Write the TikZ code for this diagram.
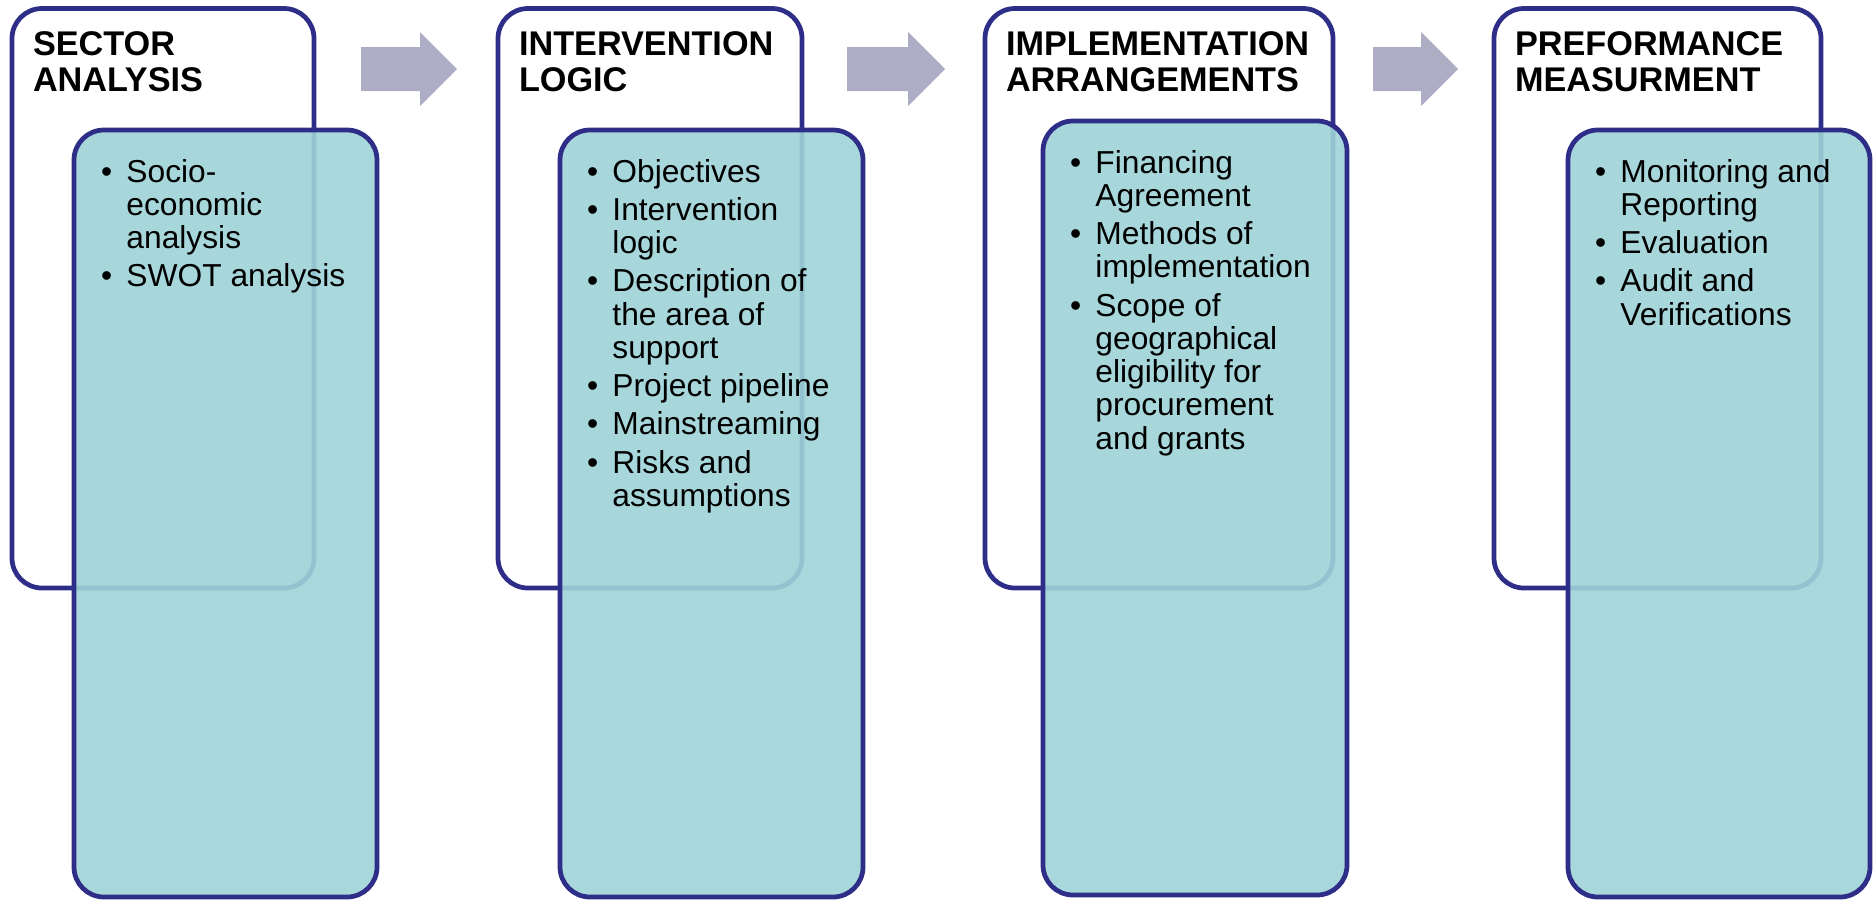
\documentclass[tikz,border=0pt]{standalone}
\usepackage{fontspec}
\setmainfont{Liberation Sans}
\definecolor{boxline}{RGB}{46,46,136}
\definecolor{listfill}{RGB}{158,211,216}
\definecolor{arrowgrey}{RGB}{173,173,198}
\tikzset{
  outerbox/.style={draw=boxline, line width=1.9pt, rounded corners=12pt, fill=white,
    inner sep=0pt, outer sep=0pt, minimum height=231.8pt, anchor=north west},
  innerbox/.style={draw=boxline, line width=1.9pt, rounded corners=12pt, fill=listfill,
    fill opacity=0.9, inner sep=0pt, outer sep=0pt, minimum height=306.8pt, anchor=north west},
  boxtitle/.style={font=\fontsize{13.7pt}{14.4pt}\selectfont\bfseries, inner sep=0pt, anchor=base west},
  itemlist/.style={font=\fontsize{12.7pt}{13.3pt}\selectfont, inner sep=0pt, anchor=base west},
}
\begin{document}
\begin{tikzpicture}[x=0.4pt,y=-0.4pt]
\useasboundingbox (0,0) rectangle (1875,901);

% step boxes
\node[outerbox, minimum width=120.8pt] (sector) at (12,8.5) {};
\node[outerbox, minimum width=121.6pt] (interv) at (498,8.5) {};
\node[outerbox, minimum width=139.2pt] (implem) at (985,8.5) {};
\node[outerbox, minimum width=130.8pt] (perform) at (1494,8.5) {};

\node[boxtitle] (sectortitle) at ([shift={(20.5,46.5)}]sector.north west)
  {\begin{tabular}[t]{@{}l@{}}SECTOR\\ANALYSIS\end{tabular}};
\node[boxtitle] (intervtitle) at ([shift={(20.5,46.5)}]interv.north west)
  {\begin{tabular}[t]{@{}l@{}}INTERVENTION\\LOGIC\end{tabular}};
\node[boxtitle] (implemtitle) at ([shift={(20.5,46.5)}]implem.north west)
  {\begin{tabular}[t]{@{}l@{}}IMPLEMENTATION\\ARRANGEMENTS\end{tabular}};
\node[boxtitle] (performtitle) at ([shift={(20.5,46.5)}]perform.north west)
  {\begin{tabular}[t]{@{}l@{}}PREFORMANCE\\MEASURMENT\end{tabular}};

% arrows between the steps
\foreach \x/\l in {361/59,847/61,1373/48}
  \fill[arrowgrey] (\x,47) -- ++(\l,0) -- ++(0,-15) -- ++(37,37) -- ++(-37,37) -- ++(0,-15) -- ++(-\l,0) -- cycle;

% content boxes
\node[innerbox, minimum width=121.2pt] (sectorlist) at (74,130) {};
\node[innerbox, minimum width=121.2pt] (intervlist) at (560,130) {};
\node[innerbox, minimum width=121.6pt, minimum height=309.6pt] (implemlist) at (1043,121) {};
\node[innerbox, minimum width=120.8pt] (performlist) at (1568,130) {};

\node[itemlist] (sectoritems) at ([shift={(26.6,52)}]sectorlist.north west)
  {\begin{tabular}[t]{@{}l@{\hspace{5.7pt}}l@{}}
   \textbullet & Socio-\\ & economic\\ & analysis\\[2pt]
   \textbullet & SWOT analysis
   \end{tabular}};
\node[itemlist] (intervitems) at ([shift={(26.6,52)}]intervlist.north west)
  {\begin{tabular}[t]{@{}l@{\hspace{5.7pt}}l@{}}
   \textbullet & Objectives\\[2pt]
   \textbullet & Intervention\\ & logic\\[2pt]
   \textbullet & Description of\\ & the area of\\ & support\\[2pt]
   \textbullet & Project pipeline\\[2pt]
   \textbullet & Mainstreaming\\[2pt]
   \textbullet & Risks and\\ & assumptions
   \end{tabular}};
\node[itemlist] (implemitems) at ([shift={(26.6,52)}]implemlist.north west)
  {\begin{tabular}[t]{@{}l@{\hspace{5.7pt}}l@{}}
   \textbullet & Financing\\ & Agreement\\[2pt]
   \textbullet & Methods of\\ & implementation\\[2pt]
   \textbullet & Scope of\\ & geographical\\ & eligibility for\\ & procurement\\ & and grants
   \end{tabular}};
\node[itemlist] (performitems) at ([shift={(26.6,52)}]performlist.north west)
  {\begin{tabular}[t]{@{}l@{\hspace{5.7pt}}l@{}}
   \textbullet & Monitoring and\\ & Reporting\\[2pt]
   \textbullet & Evaluation\\[2pt]
   \textbullet & Audit and\\ & Verifications
   \end{tabular}};

\end{tikzpicture}
\end{document}
